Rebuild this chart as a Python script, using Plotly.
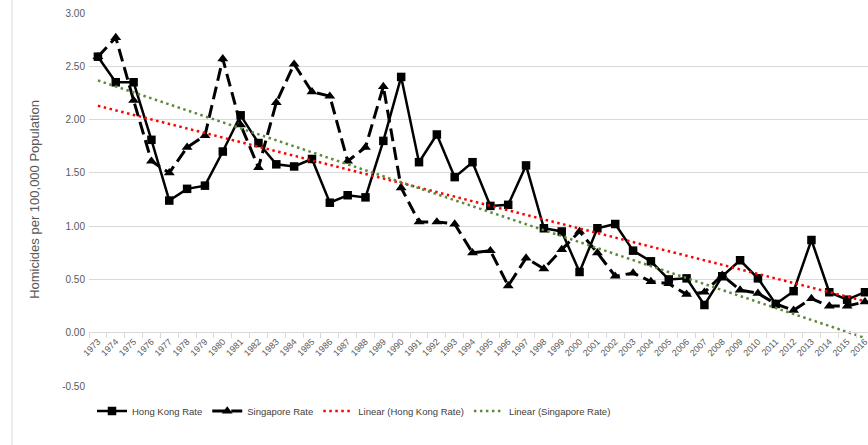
import numpy as np
import plotly.graph_objects as go

years = [str(y) for y in range(1973, 2017)]

hong_kong = [2.59, 2.35, 2.35, 1.81, 1.24, 1.35, 1.38, 1.70, 2.04, 1.78,
             1.58, 1.56, 1.63, 1.22, 1.29, 1.27, 1.80, 2.40, 1.60, 1.86,
             1.46, 1.60, 1.19, 1.20, 1.57, 0.98, 0.95, 0.57, 0.98, 1.02,
             0.77, 0.67, 0.50, 0.51, 0.26, 0.53, 0.68, 0.51, 0.27, 0.39,
             0.87, 0.38, 0.31, 0.38]

singapore = [2.59, 2.77, 2.18, 1.61, 1.50, 1.74, 1.85, 2.57, 1.95, 1.55,
             2.16, 2.52, 2.26, 2.22, 1.61, 1.74, 2.31, 1.36, 1.04, 1.04,
             1.02, 0.75, 0.77, 0.44, 0.70, 0.60, 0.78, 0.95, 0.75, 0.53,
             0.56, 0.48, 0.46, 0.36, 0.38, 0.54, 0.40, 0.37, 0.27, 0.21,
             0.32, 0.25, 0.25, 0.29]

y_ticks = [-0.5, 0.0, 0.5, 1.0, 1.5, 2.0, 2.5, 3.0]
y_tick_text = ["-0.50", "0.00", "0.50", "1.00", "1.50", "2.00", "2.50", "3.00"]

idx = np.arange(len(years))
hk_fit = np.polyval(np.polyfit(idx, hong_kong, 1), idx)
sg_fit = np.polyval(np.polyfit(idx, singapore, 1), idx)

FONT = "Liberation Sans, Arial, sans-serif"
GRAY = "#595959"

fig = go.Figure()
fig.add_trace(go.Scatter(
    x=years, y=hong_kong, name="Hong Kong Rate", mode="lines+markers",
    line=dict(color="black", width=2.5),
    marker=dict(symbol="square", size=8.5, color="black"),
))
fig.add_trace(go.Scatter(
    x=years, y=singapore, name="Singapore Rate", mode="lines+markers",
    line=dict(color="black", width=3, dash="13px,6px"),
    marker=dict(symbol="triangle-up", size=9.5, color="black"),
))
fig.add_trace(go.Scatter(
    x=years, y=hk_fit, name="Linear (Hong Kong Rate)", mode="lines",
    line=dict(color="#ff0000", width=2.5, dash="2.5px,3.5px"),
))
fig.add_trace(go.Scatter(
    x=years, y=sg_fit, name="Linear (Singapore Rate)", mode="lines",
    line=dict(color="#5a8a3a", width=2.5, dash="2.5px,3.5px"),
))

W, Hfig = 868, 445
L, R, T, B = 89, 0, 13, 59
PW = W - L - R
PH = Hfig - T - B
zero_pos = (Hfig - B - 332) / PH


def py(window_y):
    return (Hfig - B - window_y) / PH


def px(window_x):
    return (window_x - L) / PW


fig.update_layout(
    width=W, height=Hfig,
    margin=dict(l=L, r=R, t=T, b=B),
    paper_bgcolor="white", plot_bgcolor="white",
    font=dict(family=FONT, color=GRAY),
    showlegend=True,
    legend=dict(
        orientation="h",
        xref="container", x=92 / W, xanchor="left",
        yref="container", y=1 - 411 / Hfig, yanchor="middle",
        font=dict(size=9.5, color="#404040", family=FONT),
        bgcolor="rgba(0,0,0,0)",
    ),
    xaxis=dict(
        type="category", range=[-0.5, 43.17],
        anchor="free", position=zero_pos,
        showline=True, linecolor="#d9d9d9", linewidth=1,
        ticks="outside", tickson="boundaries", ticklen=5, tickcolor="#d9d9d9",
        tickangle=-45, tickfont=dict(size=9, color=GRAY, family=FONT),
        showgrid=False, automargin=False,
    ),
    yaxis=dict(
        range=[-0.5, 3.0], tickvals=y_ticks, ticktext=y_tick_text,
        showgrid=True, gridcolor="#d9d9d9", gridwidth=1,
        zeroline=False, showline=False, ticks="",
        ticklabelstandoff=3,
        tickfont=dict(size=10, color=GRAY, family=FONT),
        title=dict(text="Homicides per 100,000 Population",
                   font=dict(size=13, color=GRAY, family=FONT), standoff=19),
        automargin=False,
    ),
    shapes=[dict(type="line", xref="paper", yref="paper",
                 x0=px(12), x1=px(12), y0=py(445), y1=py(0),
                 line=dict(color="#d9d9d9", width=1))],
)

fig.write_html(
    "out.html",
    config={"displayModeBar": False},
    post_script="document.body.style.margin='0';document.body.style.overflow='hidden';",
)
